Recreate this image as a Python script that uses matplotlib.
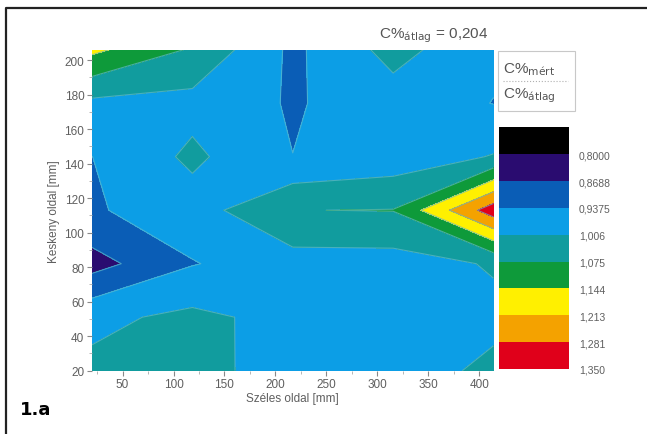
import numpy as np
import matplotlib.pyplot as plt
from matplotlib.patches import Rectangle
from matplotlib.lines import Line2D

# measurement grid (mm)
x_mm = [20, 118.5, 217, 315.5, 414]
y_mm = [20, 51, 82, 113, 144, 175, 206]

# C%mert / C%atlag, rows bottom -> top
z_ratio = [
    [1.021, 1.040, 0.960, 0.975, 1.020],
    [0.990, 1.022, 0.984, 0.975, 0.990],
    [0.842, 0.934, 0.9755, 0.977, 1.012],
    [0.930, 0.975, 1.074, 1.077, 1.320],
    [0.937, 1.020, 0.938, 0.965, 1.010],
    [0.990, 0.983, 0.931, 0.975, 0.936],
    [1.160, 1.067, 0.923, 1.030, 0.950],
]

levels = [0.8000, 0.8688, 0.9375, 1.006, 1.075, 1.144, 1.213, 1.281, 1.350]
level_labels = ["0,8000", "0,8688", "0,9375", "1,006", "1,075",
                "1,144", "1,213", "1,281", "1,350"]
band_colors = ["#000000", "#2a0c70", "#0a5db6", "#0c9ee6", "#119c9e",
               "#0e9a3a", "#fff000", "#f4a200", "#e0001a"]

grey = "#5f5f5f"
fam = ["Liberation Sans Narrow", "Liberation Sans", "DejaVu Sans"]

W, H = 647, 435
fig = plt.figure(figsize=(W / 100, H / 100), dpi=100)

def fx(px):
    return px / W

def fy(py):
    return 1 - py / H

# main contour axes
ax = fig.add_axes([fx(92), fy(371.7), fx(493.5) - fx(92), fy(50.7) - fy(371.7)])
X, Y = np.meshgrid(x_mm, y_mm)
Z = np.array(z_ratio)
cs = ax.contourf(X, Y, Z, levels=levels, colors=band_colors, extend="min")
ax.contour(X, Y, Z, levels=levels, colors="#62b9c9", linewidths=0.8, alpha=0.7)
ax.set_xlim(20, 414)
ax.set_ylim(20, 206)
for s in ax.spines.values():
    s.set_visible(False)
ax.set_xticks(np.arange(50, 401, 50))
ax.set_yticks(np.arange(20, 201, 20))
ax.set_xticks(np.arange(25, 414, 25), minor=True)
ax.set_yticks(np.arange(30, 206, 10), minor=True)
ax.tick_params(which="major", length=3.5, width=0.8, color="#888888",
               labelsize=8.5, labelcolor=grey, pad=2)
ax.tick_params(which="minor", length=2, width=0.6, color="#aaaaaa")
for lab in ax.get_xticklabels() + ax.get_yticklabels():
    lab.set_family(fam)
ax.set_xlabel("Széles oldal [mm]", fontsize=8.5, color=grey, family=fam, labelpad=1)
ax.set_ylabel("Keskeny oldal [mm]", fontsize=8.5, color=grey, family=fam, labelpad=3)

# colour bar (low values at top, as in the original)
cax = fig.add_axes([fx(499), fy(370), fx(569) - fx(499), fy(128.3) - fy(370)])
n = len(band_colors)
cax.bar(np.zeros(n), np.ones(n), bottom=np.arange(n), width=1, align="edge",
        color=band_colors)
cax.set_xlim(0, 1)
cax.set_ylim(n, 0)
cax.set_xticks([])
cax.yaxis.tick_right()
cax.set_yticks(np.arange(1, n + 1))
cax.set_yticklabels(level_labels, family=fam)
cax.tick_params(axis="y", length=0, labelsize=7.5, labelcolor=grey, pad=7)
for s in cax.spines.values():
    s.set_visible(False)

# legend box with the ratio
fig.patches.append(Rectangle((fx(498), fy(112)), fx(575) - fx(498), fy(52) - fy(112),
                             transform=fig.transFigure, fill=False,
                             edgecolor="#c8c8c8", linewidth=0.8))
fig.text(fx(503), fy(70), "C%$_{\\mathrm{mért}}$", fontsize=11, color="#555555",
         family=fam, va="center", ha="left")
fig.lines.append(Line2D([fx(503), fx(568)], [fy(82), fy(82)], transform=fig.transFigure,
                        color="#b0b0b0", linewidth=0.8, linestyle=":"))
fig.text(fx(503), fy(96), "C%$_{\\mathrm{átlag}}$", fontsize=11, color="#555555",
         family=fam, va="center", ha="left")

fig.text(fx(488), fy(36), "C%$_{\\mathrm{átlag}}$ = 0,204", fontsize=11,
         color="#555555", family=fam, va="center", ha="right")

fig.text(fx(20), fy(410), "1.a", fontsize=13, fontweight="bold", color="black",
         family=["DejaVu Sans"], va="center", ha="left")

# page frame
fig.lines.append(Line2D([fx(5.5), fx(5.5), fx(647)], [fy(435), fy(8.5), fy(8.5)],
                        transform=fig.transFigure, color="#222222", linewidth=1.6))

fig.savefig("out.png", dpi=100)
